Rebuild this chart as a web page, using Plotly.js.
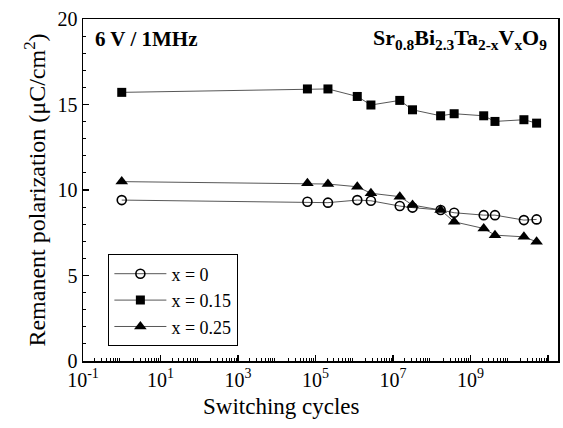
<!DOCTYPE html>
<html>
<head>
<meta charset="utf-8">
<script src="https://cdn.plot.ly/plotly-3.0.1.min.js"></script>
<style>html,body{margin:0;padding:0;background:#fff;}#chart{width:563px;height:428px;}</style>
</head>
<body>
<div id="chart"></div>
<script>
// Switching cycles (x)
const cycles = [1, 6.2e4, 2.1e5, 1.2e6, 2.7e6, 1.5e7, 3.2e7, 1.7e8, 3.8e8, 2.2e9, 4.3e9, 2.4e10, 5.1e10];
// Remanent polarization (µC/cm²)
const pr_x0   = [9.41, 9.31, 9.26, 9.41, 9.37, 9.06, 8.97, 8.83, 8.67, 8.53, 8.53, 8.24, 8.28];
const pr_x015 = [15.71, 15.91, 15.91, 15.47, 14.97, 15.24, 14.69, 14.34, 14.46, 14.34, 14.01, 14.11, 13.91];
const pr_x025 = [10.49, 10.39, 10.35, 10.19, 9.81, 9.61, 9.12, 8.83, 8.14, 7.75, 7.36, 7.26, 6.97];
const seriesNames = ['x = 0', 'x = 0.15', 'x = 0.25'];
const labelExps = [-1, 1, 3, 5, 7, 9, 11];      // labelled decades
const plainExps = [0, 2, 4, 6, 8, 10];          // unlabelled decade ticks
const yTicks = [0, 5, 10, 15, 20];

const serif = 'Liberation Serif, Times New Roman, serif';
const lineStyle = {color: '#444', width: 0.9};

const traces = [
  {x: cycles, y: pr_x0, name: seriesNames[0], mode: 'lines+markers', line: lineStyle,
   marker: {symbol: 'circle-open', size: 9, color: '#000', line: {width: 1.6, color: '#000'}}},
  {x: cycles, y: pr_x015, name: seriesNames[1], mode: 'lines+markers', line: lineStyle,
   marker: {symbol: 'square', size: 9, color: '#000'}},
  {x: cycles, y: pr_x025, name: seriesNames[2], mode: 'lines+markers', line: lineStyle,
   marker: {symbol: 'triangle-up', size: 11, color: '#000'}}
];

const xTickVals = labelExps.map(e => Math.pow(10, e));
const xTickText = labelExps.map(e => '10<sup>' + e + '</sup>');
const xPlainVals = plainExps.map(e => Math.pow(10, e));
const xMinor = [];
for (let e = -1; e <= 11; e++) { for (let k = 2; k <= 9; k++) xMinor.push(k * Math.pow(10, e)); }
const yMinor = [];
for (let v = 0; v <= 20; v += 1) if (v % 5 !== 0) yMinor.push(v);

const layout = {
  width: 563, height: 428,
  margin: {l: 83, r: 5, t: 19, b: 67},
  paper_bgcolor: '#fff', plot_bgcolor: '#fff',
  font: {family: serif, color: '#000', size: 20},
  showlegend: true,
  legend: {x: 0.053, y: 0.312, xanchor: 'left', yanchor: 'top',
           bordercolor: '#000', borderwidth: 1.2, bgcolor: '#fff', itemwidth: 52,
           font: {family: serif, size: 18, color: '#000'}, tracegroupgap: 0},
  xaxis: {
    type: 'log', range: [-1, 11.26],
    tickmode: 'array', tickvals: xTickVals, ticktext: xTickText,
    ticks: 'inside', ticklen: 6, tickwidth: 1.2, tickcolor: '#000',
    minor: {tickmode: 'array', tickvals: xMinor, ticks: 'inside', ticklen: 3, tickwidth: 1, tickcolor: '#000'},
    showline: true, linecolor: '#000', linewidth: 1.5, mirror: true,
    showgrid: false, zeroline: false,
    tickfont: {family: serif, size: 20, color: '#000'}
  },
  xaxis2: {
    type: 'log', overlaying: 'x', matches: 'x', anchor: 'y', side: 'bottom', range: [-1, 11.26],
    tickmode: 'array', tickvals: xPlainVals, showticklabels: false,
    ticks: 'inside', ticklen: 6, tickwidth: 1.2, tickcolor: '#000',
    showline: false, showgrid: false, zeroline: false
  },
  yaxis: {
    range: [0, 20],
    tickmode: 'array', tickvals: yTicks,
    ticks: 'inside', ticklen: 6, tickwidth: 1.2, tickcolor: '#000',
    minor: {tickmode: 'array', tickvals: yMinor, ticks: 'inside', ticklen: 3, tickwidth: 1, tickcolor: '#000'},
    showline: true, linecolor: '#000', linewidth: 1.5, mirror: true,
    showgrid: false, zeroline: false,
    tickfont: {family: serif, size: 20, color: '#000'},
    title: {text: 'Remanent polarization (μC/cm<sup>2</sup>)', font: {family: serif, size: 24, color: '#000'}, standoff: 5}
  },
  annotations: [
    {text: 'Switching cycles', xref: 'paper', yref: 'paper', x: 0.417, y: -0.09,
     xanchor: 'center', yanchor: 'top', showarrow: false, font: {family: serif, size: 23, color: '#000'}},
    {text: '<b>6 V / 1MHz</b>', xref: 'paper', yref: 'paper', x: 0.022, y: 0.942,
     xanchor: 'left', yanchor: 'middle', showarrow: false, font: {family: serif, size: 21, color: '#000'}},
    {text: '<b>Sr<sub>0.8</sub>Bi<sub>2.3</sub>Ta<sub>2-x</sub>V<sub>x</sub>O<sub>9</sub></b>', xref: 'paper', yref: 'paper', x: 0.98, y: 0.942,
     xanchor: 'right', yanchor: 'middle', showarrow: false, font: {family: serif, size: 22, color: '#000'}}
  ]
};

Plotly.newPlot('chart', traces, layout, {displayModeBar: false, staticPlot: true});
</script>
</body>
</html>
